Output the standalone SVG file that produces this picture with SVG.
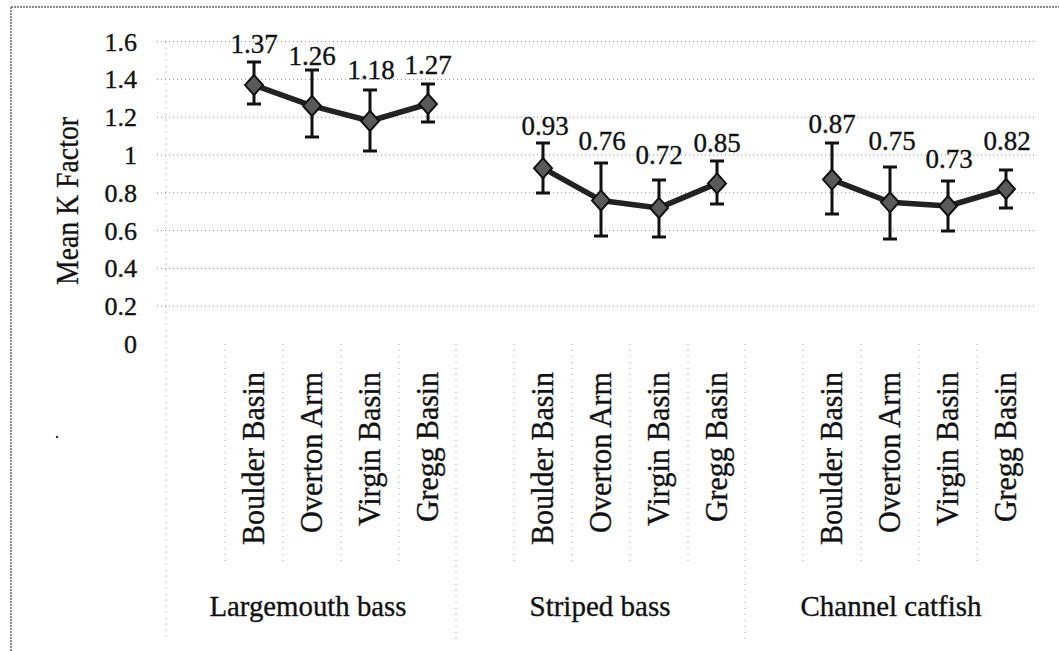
<svg xmlns="http://www.w3.org/2000/svg" width="1059" height="651" viewBox="0 0 1059 651">
<style>
  text { font-family: "Liberation Serif", "Times New Roman", serif; fill: #111; stroke: #111; stroke-width: 0.35; }
  .tick { font-size: 26px; text-anchor: end; }
  .val { font-size: 27px; text-anchor: middle; }
  .cat { font-size: 31px; text-anchor: end; }
  .grp { font-size: 30px; text-anchor: middle; }
  .axt { font-size: 31px; text-anchor: middle; }
  .grid { stroke: #8a8a8a; stroke-width: 1; stroke-dasharray: 1 3; fill: none; }
  .vgrid { stroke: #9a9a9a; stroke-width: 1; stroke-dasharray: 1 5; fill: none; }
  .border { stroke: #666; stroke-width: 1.5; stroke-dasharray: 2 1; fill: none; }
  .series { stroke: #222; stroke-width: 5.5; fill: none; stroke-linejoin: round; }
  .err { stroke: #111; stroke-width: 3; fill: none; }
  .mk { fill: #5a5a5a; stroke: #111; stroke-width: 2; }
</style>
<defs>
  <path id="dia" d="M0,-10 L9,0 L0,10 L-9,0 Z"/>
</defs>
<rect x="0" y="0" width="1059" height="651" fill="#fff"/>

<g id="frame">
  <line class="border" x1="11" y1="7" x2="1059" y2="7"/>
  <line class="border" x1="11" y1="7" x2="11" y2="651"/>
  <circle cx="57" cy="437" r="1.2" fill="#333"/>
</g>

<g id="gridlines">
  <line class="grid" x1="157" y1="41.6" x2="1035" y2="41.6"/>
  <line class="grid" x1="157" y1="79.4" x2="1035" y2="79.4"/>
  <line class="grid" x1="157" y1="117.2" x2="1035" y2="117.2"/>
  <line class="grid" x1="157" y1="155" x2="1035" y2="155"/>
  <line class="grid" x1="157" y1="192.8" x2="1035" y2="192.8"/>
  <line class="grid" x1="157" y1="230.6" x2="1035" y2="230.6"/>
  <line class="grid" x1="157" y1="268.4" x2="1035" y2="268.4"/>
  <line class="grid" x1="157" y1="306.2" x2="1035" y2="306.2"/>
  <line class="vgrid" x1="166" y1="41.6" x2="166" y2="640"/>
  <line class="vgrid" x1="225" y1="344" x2="225" y2="565"/>
  <line class="vgrid" x1="283" y1="344" x2="283" y2="565"/>
  <line class="vgrid" x1="341" y1="344" x2="341" y2="565"/>
  <line class="vgrid" x1="399" y1="344" x2="399" y2="565"/>
  <line class="vgrid" x1="456" y1="344" x2="456" y2="640"/>
  <line class="vgrid" x1="514" y1="344" x2="514" y2="565"/>
  <line class="vgrid" x1="572" y1="344" x2="572" y2="565"/>
  <line class="vgrid" x1="630" y1="344" x2="630" y2="565"/>
  <line class="vgrid" x1="688" y1="344" x2="688" y2="565"/>
  <line class="vgrid" x1="745" y1="344" x2="745" y2="640"/>
  <line class="vgrid" x1="803" y1="344" x2="803" y2="565"/>
  <line class="vgrid" x1="861" y1="344" x2="861" y2="565"/>
  <line class="vgrid" x1="919" y1="344" x2="919" y2="565"/>
  <line class="vgrid" x1="977" y1="344" x2="977" y2="565"/>
</g>

<g id="y-axis">
  <text class="axt" transform="translate(78,201) rotate(-90)" textLength="168" lengthAdjust="spacingAndGlyphs">Mean K Factor</text>
  <text class="tick" x="137" y="50.5">1.6</text>
  <text class="tick" x="137" y="88.3">1.4</text>
  <text class="tick" x="137" y="126.1">1.2</text>
  <text class="tick" x="137" y="163.9">1</text>
  <text class="tick" x="137" y="201.7">0.8</text>
  <text class="tick" x="137" y="239.5">0.6</text>
  <text class="tick" x="137" y="277.3">0.4</text>
  <text class="tick" x="137" y="315.1">0.2</text>
  <text class="tick" x="137" y="352.9">0</text>
</g>

<g id="series-largemouth">
  <polyline class="series" points="254,85.1 312,105.9 370,121 428,104"/>
  <path class="err" d="M254,62 V104 M247,62 H261 M247,104 H261"/>
  <path class="err" d="M312,70 V137 M305,70 H319 M305,137 H319"/>
  <path class="err" d="M370,90 V151 M363,90 H377 M363,151 H377"/>
  <path class="err" d="M428,84 V122 M421,84 H435 M421,122 H435"/>
  <use href="#dia" class="mk" x="254" y="85.1"/>
  <use href="#dia" class="mk" x="312" y="105.9"/>
  <use href="#dia" class="mk" x="370" y="121"/>
  <use href="#dia" class="mk" x="428" y="104"/>
  <text class="val" x="254" y="53">1.37</text>
  <text class="val" x="312" y="65">1.26</text>
  <text class="val" x="371" y="79">1.18</text>
  <text class="val" x="428" y="74">1.27</text>
</g>

<g id="series-striped">
  <polyline class="series" points="543,168.2 601,200.4 659,207.9 717,183.4"/>
  <path class="err" d="M543,143 V193 M536,143 H550 M536,193 H550"/>
  <path class="err" d="M601,163 V236 M594,163 H608 M594,236 H608"/>
  <path class="err" d="M659,180 V237 M652,180 H666 M652,237 H666"/>
  <path class="err" d="M717,161 V204 M710,161 H724 M710,204 H724"/>
  <use href="#dia" class="mk" x="543" y="168.2"/>
  <use href="#dia" class="mk" x="601" y="200.4"/>
  <use href="#dia" class="mk" x="659" y="207.9"/>
  <use href="#dia" class="mk" x="717" y="183.4"/>
  <text class="val" x="545" y="135">0.93</text>
  <text class="val" x="602" y="150">0.76</text>
  <text class="val" x="659" y="164">0.72</text>
  <text class="val" x="717" y="152">0.85</text>
</g>

<g id="series-catfish">
  <polyline class="series" points="832,179.6 890,202.3 948,206 1006,189"/>
  <path class="err" d="M832,143 V214 M825,143 H839 M825,214 H839"/>
  <path class="err" d="M890,167 V239 M883,167 H897 M883,239 H897"/>
  <path class="err" d="M948,181 V231 M941,181 H955 M941,231 H955"/>
  <path class="err" d="M1006,170 V208 M999,170 H1013 M999,208 H1013"/>
  <use href="#dia" class="mk" x="832" y="179.6"/>
  <use href="#dia" class="mk" x="890" y="202.3"/>
  <use href="#dia" class="mk" x="948" y="206"/>
  <use href="#dia" class="mk" x="1006" y="189"/>
  <text class="val" x="832" y="133">0.87</text>
  <text class="val" x="892" y="150">0.75</text>
  <text class="val" x="949" y="168">0.73</text>
  <text class="val" x="1007" y="150">0.82</text>
</g>

<g id="category-labels">
  <text class="cat" transform="translate(264,372) rotate(-90)" textLength="173" lengthAdjust="spacingAndGlyphs">Boulder Basin</text>
  <text class="cat" transform="translate(322,372) rotate(-90)" textLength="161" lengthAdjust="spacingAndGlyphs">Overton Arm</text>
  <text class="cat" transform="translate(380,372) rotate(-90)" textLength="154" lengthAdjust="spacingAndGlyphs">Virgin Basin</text>
  <text class="cat" transform="translate(438,372) rotate(-90)" textLength="150" lengthAdjust="spacingAndGlyphs">Gregg Basin</text>
  <text class="cat" transform="translate(553,372) rotate(-90)" textLength="173" lengthAdjust="spacingAndGlyphs">Boulder Basin</text>
  <text class="cat" transform="translate(611,372) rotate(-90)" textLength="161" lengthAdjust="spacingAndGlyphs">Overton Arm</text>
  <text class="cat" transform="translate(669,372) rotate(-90)" textLength="154" lengthAdjust="spacingAndGlyphs">Virgin Basin</text>
  <text class="cat" transform="translate(727,372) rotate(-90)" textLength="150" lengthAdjust="spacingAndGlyphs">Gregg Basin</text>
  <text class="cat" transform="translate(842,372) rotate(-90)" textLength="173" lengthAdjust="spacingAndGlyphs">Boulder Basin</text>
  <text class="cat" transform="translate(900,372) rotate(-90)" textLength="161" lengthAdjust="spacingAndGlyphs">Overton Arm</text>
  <text class="cat" transform="translate(958,372) rotate(-90)" textLength="154" lengthAdjust="spacingAndGlyphs">Virgin Basin</text>
  <text class="cat" transform="translate(1016,372) rotate(-90)" textLength="150" lengthAdjust="spacingAndGlyphs">Gregg Basin</text>
</g>

<g id="group-labels">
  <text class="grp" x="308" y="616" textLength="197" lengthAdjust="spacingAndGlyphs">Largemouth bass</text>
  <text class="grp" x="600" y="616" textLength="141" lengthAdjust="spacingAndGlyphs">Striped bass</text>
  <text class="grp" x="891" y="616" textLength="181" lengthAdjust="spacingAndGlyphs">Channel catfish</text>
</g>
</svg>
